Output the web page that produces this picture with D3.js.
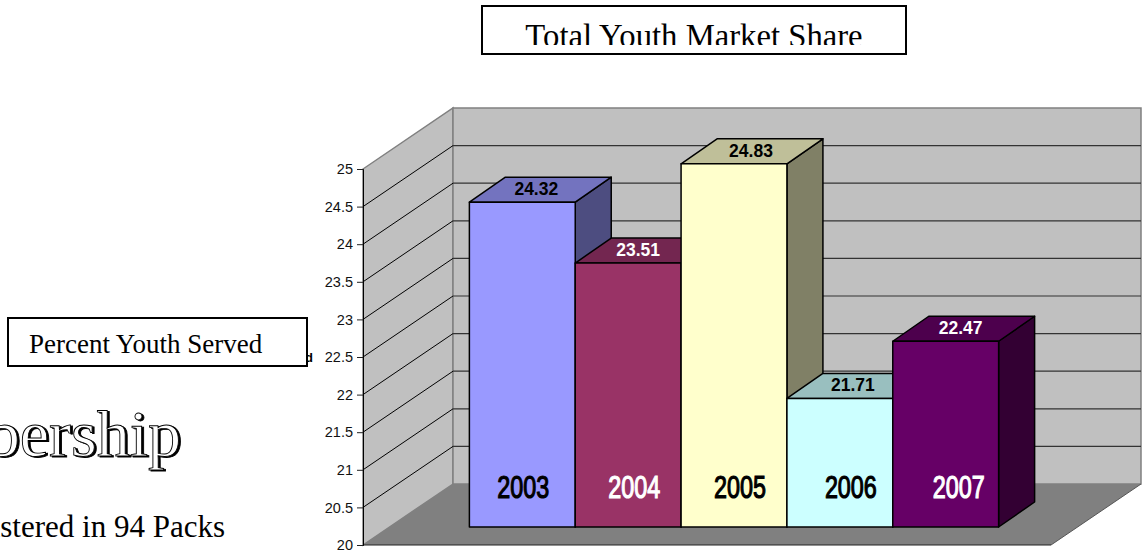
<!DOCTYPE html>
<html>
<head>
<meta charset="utf-8">
<script src="https://cdn.jsdelivr.net/npm/d3@7"></script>
<style>
    html, body { margin: 0; padding: 0; background: #fff; overflow: hidden; }
    svg { display: block; }
    .serif { font-family: "Liberation Serif", serif; fill: #000; }
    .sans { font-family: "Liberation Sans", sans-serif; }
</style>
</head>
<body>
<svg id="chart" width="1144" height="552"></svg>
<script>
// chart values
const years = ['2003', '2004', '2005', '2006', '2007'];
const youthShare = [24.32, 23.51, 24.83, 21.71, 22.47];
const yTicks = [20, 20.5, 21, 21.5, 22, 22.5, 23, 23.5, 24, 24.5, 25];

const faceColors = ['#9999ff', '#993366', '#ffffcc', '#ccffff', '#660066'];
const topColors = ['#7373bf', '#732650', '#bfbf99', '#99bfbf', '#4d004d'];
const sideColors = ['#4d4d80', '#4d1a33', '#808066', '#668080', '#330033'];
const labelColors = ['#000', '#fff', '#000', '#000', '#fff'];
// the captions are not centred on their bars in the original
const yearNudge = [1, 6, 6, 11, 13];
const valueNudge = [14, 10, 17, 13, 15];

const svg = d3.select('#chart');

// front plane of the box, depth goes up and to the right
const left = 363, right = 1051;
const wall = { dx: 90, dy: -61 };
const bar = { dx: 36, dy: -25, inX: 27, inY: -18 };

const y = d3.scaleLinear().domain([20, 25]).range([545, 169]);
const x = d3.scaleBand()
    .domain(years)
    .range([left + bar.inX, right + bar.inX])
    .paddingInner(0)
    .paddingOuter(0.75);

const poly = pts => pts.map(p => p.join(',')).join(' ');

// walls and floor
svg.append('polygon')
    .attr('points', poly([[left, y(25)], [left + wall.dx, y(25) + wall.dy], [left + wall.dx, y(20) + wall.dy], [left, y(20)]]))
    .attr('fill', '#c0c0c0').attr('stroke', '#808080').attr('stroke-width', 1.5);
svg.append('polygon')
    .attr('points', poly([[left + wall.dx, y(25) + wall.dy], [right + wall.dx, y(25) + wall.dy], [right + wall.dx, y(20) + wall.dy], [left + wall.dx, y(20) + wall.dy]]))
    .attr('fill', '#c0c0c0').attr('stroke', '#808080').attr('stroke-width', 1.5);
svg.append('polygon')
    .attr('points', poly([[left, y(20)], [left + wall.dx, y(20) + wall.dy], [right + wall.dx, y(20) + wall.dy], [right, y(20)]]))
    .attr('fill', '#808080');

// gridlines, skipping the floor and the top edge
const gridTicks = yTicks.filter(d => d > 20 && d < 25);
svg.append('g').selectAll('line')
    .data(gridTicks)
    .enter().append('line')
    .attr('x1', left).attr('x2', left + wall.dx)
    .attr('y1', d => y(d)).attr('y2', d => y(d) + wall.dy)
    .attr('stroke', '#000').attr('stroke-width', 1);
svg.append('g').selectAll('line')
    .data(gridTicks)
    .enter().append('line')
    .attr('x1', left + wall.dx).attr('x2', right + wall.dx)
    .attr('y1', d => y(d) + wall.dy).attr('y2', d => y(d) + wall.dy)
    .attr('stroke', '#333').attr('stroke-width', 1.2);

// floor front edge
svg.append('line')
    .attr('x1', left).attr('x2', right)
    .attr('y1', y(20)).attr('y2', y(20))
    .attr('stroke', '#222').attr('stroke-width', 1);
svg.append('line')
    .attr('x1', right).attr('x2', right + wall.dx)
    .attr('y1', y(20)).attr('y2', y(20) + wall.dy)
    .attr('stroke', '#555').attr('stroke-width', 1);

// y axis
const axis = svg.append('g')
    .attr('transform', `translate(${left},0)`)
    .call(d3.axisLeft(y).tickValues(yTicks).tickSize(6).tickPadding(4).tickFormat(d => d));
axis.select('.domain').attr('stroke', '#000');
axis.selectAll('line').attr('stroke', '#222');
axis.selectAll('text')
    .attr('class', 'sans')
    .style('font-size', '14.5px')
    .attr('fill', '#111');

// axis title mostly hidden behind the box, only the last letter shows
svg.append('text')
    .attr('class', 'sans')
    .attr('x', 313).attr('y', 362)
    .attr('text-anchor', 'end')
    .style('font-size', '13px')
    .style('font-weight', 'bold')
    .text('Percent Youth Served');

// bars
const base = y(20) + bar.inY;
const rows = years.map((year, i) => ({ year, value: youthShare[i], i }));
const bars = svg.append('g').selectAll('g')
    .data(rows)
    .enter().append('g');

const x0 = d => x(d.year);
const x1 = d => x(d.year) + x.bandwidth();
const top0 = d => y(d.value) + bar.inY;

bars.append('polygon')
    .attr('points', d => poly([[x1(d), top0(d)], [x1(d) + bar.dx, top0(d) + bar.dy], [x1(d) + bar.dx, base + bar.dy], [x1(d), base]]))
    .attr('fill', d => sideColors[d.i]);
bars.append('polygon')
    .attr('points', d => poly([[x0(d), top0(d)], [x0(d) + bar.dx, top0(d) + bar.dy], [x1(d) + bar.dx, top0(d) + bar.dy], [x1(d), top0(d)]]))
    .attr('fill', d => topColors[d.i]);
bars.append('rect')
    .attr('x', x0)
    .attr('y', top0)
    .attr('width', x.bandwidth())
    .attr('height', d => base - top0(d))
    .attr('fill', d => faceColors[d.i]);
bars.selectAll('polygon, rect')
    .attr('stroke', '#000')
    .attr('stroke-width', 1.5)
    .attr('stroke-linejoin', 'round');

// value labels sit on the top face
bars.append('text')
    .attr('class', 'sans')
    .attr('x', d => x0(d) + x.bandwidth() / 2 + valueNudge[d.i])
    .attr('y', d => top0(d) + bar.dy / 2 + 5.5)
    .attr('text-anchor', 'middle')
    .style('font-size', '17.5px')
    .style('font-weight', 'bold')
    .attr('fill', d => labelColors[d.i])
    .text(d => d.value);

// year captions are drawn inside the bars, narrow and heavy
bars.append('text')
    .attr('class', 'sans')
    .attr('text-anchor', 'middle')
    .attr('transform', d => `translate(${x0(d) + x.bandwidth() / 2 + yearNudge[d.i]},498) scale(0.73,1)`)
    .style('font-size', '32px')
    .attr('fill', d => labelColors[d.i])
    .attr('stroke', d => labelColors[d.i])
    .attr('stroke-width', 1.2)
    .text(d => d.year);

// title box, the text is cut off by the box in the original
svg.append('clipPath').attr('id', 'title-clip')
    .append('rect').attr('x', 482).attr('y', 6).attr('width', 424).attr('height', 39);
svg.append('rect')
    .attr('x', 482).attr('y', 6).attr('width', 424).attr('height', 48)
    .attr('fill', '#fff').attr('stroke', '#000').attr('stroke-width', 2);
svg.append('text')
    .attr('class', 'serif')
    .attr('clip-path', 'url(#title-clip)')
    .attr('x', 694).attr('y', 47)
    .attr('text-anchor', 'middle')
    .style('font-size', '32.7px')
    .text('Total Youth Market Share');

// y title box
svg.append('rect')
    .attr('x', 8).attr('y', 318).attr('width', 299).attr('height', 48)
    .attr('fill', '#fff').attr('stroke', '#000').attr('stroke-width', 2);
svg.append('text')
    .attr('class', 'serif')
    .attr('x', 29).attr('y', 353)
    .style('font-size', '27px')
    .text('Percent Youth Served');

// leftovers of the slide behind the chart, running off the page
const heading = [
    { dx: 2, dy: 1, fill: '#000', stroke: '#000' },
    { dx: 0, dy: 0, fill: '#fff', stroke: '#000' }
];
svg.append('g').selectAll('text')
    .data(heading)
    .enter().append('text')
    .attr('class', 'serif')
    .attr('x', d => 181 + d.dx).attr('y', d => 456 + d.dy)
    .attr('text-anchor', 'end')
    .style('font-size', '66px')
    .style('fill', d => d.fill)
    .attr('stroke', d => d.stroke)
    .attr('stroke-width', 0.9)
    .text('Membership');

svg.append('text')
    .attr('class', 'serif')
    .attr('x', 225).attr('y', 537)
    .attr('text-anchor', 'end')
    .style('font-size', '31px')
    .text('Registered in 94 Packs');
</script>
</body>
</html>
